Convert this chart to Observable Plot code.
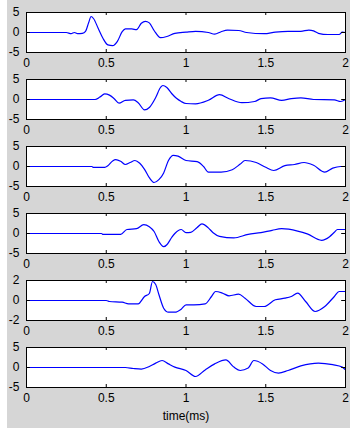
<!DOCTYPE html>
<html>
<head>
<meta charset="utf-8">
<script src="https://cdn.jsdelivr.net/npm/d3@7"></script>
<script src="https://cdn.jsdelivr.net/npm/@observablehq/plot@0.6"></script>
<style>
  html, body { margin: 0; padding: 0; background: white; }
  #wrap { position: relative; width: 350px; height: 432px; overflow: hidden; }
  #bg { position: absolute; left: 7px; top: 0; width: 343px; height: 428px; background: #d6d6d6; }
  .panel { position: absolute; left: 0; }
</style>
</head>
<body>
<div id="wrap"><div id="bg"></div></div>
<script>
const xTicks = [0, 0.5, 1, 1.5, 2];
const yTicksWide = [-5, 0, 5];
const yTicksNarrow = [-2, 0, 2];
const xLabel = "time(ms)";

const trace1 = [[0,0],[0.25,0],[0.28,-0.3],[0.3,0],[0.32,-0.3],[0.35,-0.2],[0.37,0.3],[0.39,2.5],[0.405,4.0],[0.42,3.5],[0.45,1.0],[0.48,-1.5],[0.51,-3.1],[0.54,-3.3],[0.57,-2.2],[0.6,0.2],[0.62,0.9],[0.66,0.9],[0.69,0.7],[0.72,2.3],[0.745,2.8],[0.77,2.4],[0.8,0.5],[0.84,-1.3],[0.88,-1.0],[0.93,-0.2],[1.0,0.1],[1.06,0.3],[1.14,0],[1.18,-0.4],[1.22,0.2],[1.26,0.6],[1.33,0.5],[1.38,0],[1.49,-0.3],[1.56,0.1],[1.64,0.3],[1.72,0.3],[1.77,0.6],[1.8,0.4],[1.83,-0.2],[1.89,-0.5],[1.96,-0.5],[1.98,0.1],[2.0,0]];
const trace2 = [[0,0],[0.43,0],[0.46,0.6],[0.49,1.4],[0.52,1.1],[0.55,0.2],[0.58,-0.9],[0.62,-0.2],[0.67,-0.1],[0.7,-0.8],[0.74,-2.6],[0.77,-2.0],[0.81,0.5],[0.84,3.0],[0.855,3.5],[0.88,3.0],[0.91,1.5],[0.94,0.3],[0.97,-0.5],[1.0,-1.0],[1.06,-1.1],[1.14,-0.2],[1.21,1.2],[1.27,0.2],[1.35,-0.8],[1.43,-0.5],[1.47,0.2],[1.53,0.4],[1.6,-0.2],[1.66,0.2],[1.72,0.4],[1.8,0],[1.93,-0.1],[1.97,-0.5],[2.0,0]];
const trace3 = [[0,0],[0.41,0],[0.42,-0.2],[0.49,-0.2],[0.51,0.2],[0.54,1.4],[0.56,1.7],[0.59,1.3],[0.62,0.5],[0.65,1.0],[0.68,1.5],[0.71,0.8],[0.74,-0.7],[0.77,-2.8],[0.8,-4.0],[0.83,-3.3],[0.86,-1.6],[0.89,1.5],[0.92,2.8],[0.95,2.6],[1.0,1.5],[1.07,1.2],[1.11,0],[1.14,-1.4],[1.22,-1.4],[1.29,-0.8],[1.34,0.6],[1.37,1.5],[1.44,1.0],[1.5,-0.2],[1.55,-1.0],[1.62,0.2],[1.68,0.5],[1.74,1.0],[1.8,0.3],[1.87,-1.4],[1.92,-0.4],[1.97,0],[2.0,0]];
const trace4 = [[0,0],[0.47,0],[0.48,-0.2],[0.59,-0.2],[0.63,1.0],[0.69,1.2],[0.735,2.2],[0.77,1.7],[0.8,0.5],[0.83,-2.0],[0.86,-3.3],[0.88,-2.8],[0.91,-1.0],[0.93,0],[0.97,1.0],[1.0,0.2],[1.03,0.3],[1.07,1.5],[1.1,2.4],[1.14,1.4],[1.17,0.2],[1.21,-0.7],[1.3,-1.1],[1.39,-0.2],[1.47,0.2],[1.54,0.8],[1.6,1.2],[1.7,0.6],[1.76,-0.1],[1.85,-1.7],[1.9,-0.8],[1.93,0.3],[1.95,1.0],[2.0,1.0]];
const trace5 = [[0,0],[0.5,0],[0.52,-0.1],[0.6,-0.17],[0.64,-0.33],[0.7,-0.33],[0.74,0.4],[0.77,0.7],[0.79,1.9],[0.81,1.6],[0.83,0.6],[0.86,-0.77],[0.89,-1.17],[0.93,-1.17],[0.97,-0.87],[1.0,-0.43],[1.05,-0.43],[1.12,-0.33],[1.16,0.4],[1.185,0.9],[1.23,0.73],[1.27,0.47],[1.33,0.63],[1.37,0.23],[1.44,-0.6],[1.49,-0.6],[1.56,0.07],[1.62,0.23],[1.66,0.4],[1.7,0.73],[1.75,-0.1],[1.81,-1.1],[1.87,-0.6],[1.93,0.4],[1.96,0.9],[2.0,0.9]];
const trace6 = [[0,0],[0.62,0],[0.67,-0.25],[0.72,-0.4],[0.77,0.25],[0.81,1.1],[0.85,1.75],[0.89,0.9],[0.93,0.1],[1.0,-0.75],[1.06,-2.25],[1.12,-0.6],[1.18,0.9],[1.25,1.9],[1.3,0.1],[1.34,-0.75],[1.39,-0.15],[1.425,1.75],[1.48,0.9],[1.53,-0.75],[1.58,-1.4],[1.64,-0.75],[1.72,0.4],[1.83,1.1],[1.92,0.7],[1.98,0.1],[2.0,-0.6]];

const panels = [
  {data: trace1, yTicks: yTicksWide},
  {data: trace2, yTicks: yTicksWide},
  {data: trace3, yTicks: yTicksWide},
  {data: trace4, yTicks: yTicksWide},
  {data: trace5, yTicks: yTicksNarrow},
  {data: trace6, yTicks: yTicksWide}
];

const wrap = document.getElementById("wrap");
const step = 67;
panels.forEach((p, i) => {
  const last = i === panels.length - 1;
  const lo = p.yTicks[0], hi = p.yTicks[p.yTicks.length - 1];
  const ty = (hi - lo) * 0.075;   // inward tick length (~3px)
  const tx = 2 * 0.012;
  const innerX = xTicks.slice(1, -1);
  const marks = [
    Plot.frame({fill: "white", stroke: null}),
    Plot.line(p.data, {x: d => d[0], y: d => d[1], stroke: "#0000ff", strokeWidth: 1.2, curve: "monotone-x"}),
    Plot.ruleX(innerX, {x: d => d, y1: lo, y2: lo + ty, stroke: "black"}),
    Plot.ruleX(innerX, {x: d => d, y1: hi, y2: hi - ty, stroke: "black"}),
    Plot.ruleY([0], {y: d => d, x1: 0, x2: tx, stroke: "black"}),
    Plot.ruleY([0], {y: d => d, x1: 2, x2: 2 - tx, stroke: "black"}),
    Plot.frame({stroke: "black", fill: null}),
    Plot.axisX(xTicks, {tickSize: 0, tickPadding: 6, label: null, tickFormat: d => String(d)}),
    Plot.axisY(p.yTicks, {tickSize: 0, tickPadding: 7, label: null, tickFormat: d => String(d)})
  ];
  if (last) {
    marks.push(Plot.text([xLabel], {frameAnchor: "bottom", dy: 29, lineAnchor: "middle", text: d => d, fill: "black"}));
  }
  const height = last ? 97 : 67;
  const chart = Plot.plot({
    width: 350,
    height,
    marginLeft: 26,
    marginRight: 5,
    marginTop: 12,
    marginBottom: height - 52,
    x: {domain: [0, 2]},
    y: {domain: [lo, hi]},
    style: {background: "transparent", fontFamily: "'Liberation Sans', Arial, sans-serif", fontSize: "12px", color: "black", overflow: "visible"},
    marks
  });
  chart.classList.add("panel");
  chart.style.top = (i * step) + "px";
  wrap.appendChild(chart);
});
</script>
</body>
</html>
